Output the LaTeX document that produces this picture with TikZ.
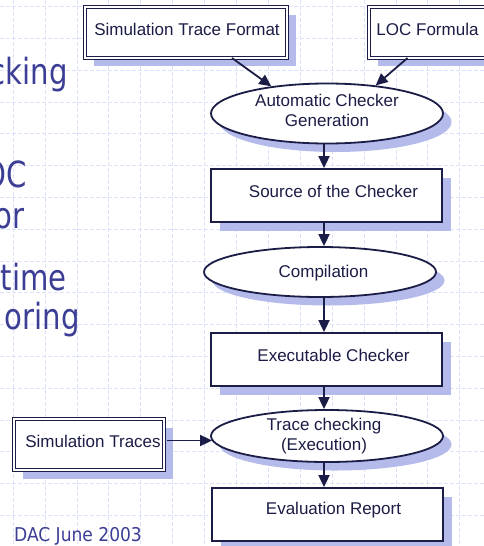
\documentclass[tikz,border=0pt]{standalone}
\usepackage{fontspec}
\setmainfont{Liberation Sans}
\newfontfamily\slidefont[FakeStretch=0.9]{DejaVu Sans Condensed}
\newfontfamily\footfont{DejaVu Sans Condensed}
\usetikzlibrary{shapes.geometric,arrows.meta,shadows}

\definecolor{navy}{RGB}{28,29,70}
\definecolor{shadowc}{RGB}{180,186,234}
\definecolor{gridc}{RGB}{222,225,250}
\definecolor{slidec}{RGB}{60,62,150}

\tikzset{
  gridline/.style={draw=gridc, line width=0.6pt, dash pattern=on 4pt off 2pt},
  shade8/.style={drop shadow={shadow xshift=8.5pt, shadow yshift=-8.5pt, fill=shadowc, opacity=1}},
  stepbox/.style={rectangle, draw=navy, line width=1.8pt, fill=white, inner sep=0pt,
    minimum width=231pt, minimum height=53pt, shade8},
  inbox/.style={rectangle, draw=navy, double=white, double distance=2pt, line width=1pt,
    fill=white, inner sep=0pt, minimum height=51pt, shade8},
  process/.style={ellipse, draw=navy, line width=1.8pt, fill=white, inner sep=0pt,
    minimum width=232pt, shade8},
  lbl/.style={font=\fontsize{17}{20.5}\selectfont, text=navy, align=center, inner sep=0pt},
  slide/.style={font=\slidefont\fontsize{36}{38}\selectfont, text=slidec, inner sep=0pt},
  arr/.style={draw=navy, line width=1.8pt, -{Triangle[length=12pt,width=11pt]}}
}

\begin{document}
\begin{tikzpicture}[x=1pt,y=-1pt]
\useasboundingbox (0,0) rectangle (484,546);
\fill[white] (0,0) rectangle (484,546);

% background grid
\foreach \i in {0,...,15} \draw[gridline] ({13+31.9*\i},0) -- ({13+31.9*\i},546);
\foreach \j in {0,...,17} \draw[gridline] (0,{6.5+31.8*\j}) -- (484,{6.5+31.8*\j});

% slide text on the left
\node[slide, anchor=base east] (t1) at (68,84) {cking};
\node[slide, anchor=base east] (t2) at (27,187) {OC};
\node[slide, anchor=base east] (t3) at (25,228) {or};
\node[slide, anchor=base east] (t4) at (67,290) {time};
\node[slide, anchor=base east] (t5) at (80,329) {oring};
\node[anchor=base west, inner sep=0pt, text=slidec, font=\footfont\fontsize{19}{20}\selectfont] (dac) at (14,541) {DAC June 2003};

% inputs
\node[inbox, minimum width=202pt] (stf) at (186,32) {};
\node[lbl] (stft) at ([xshift=1pt,yshift=3pt]stf.center) {Simulation Trace Format};
\node[inbox, minimum width=121pt] (loc) at (429.5,32) {};
\node[lbl] (loct) at ([xshift=-2pt,yshift=3pt]loc.center) {LOC Formula};
\node[inbox, minimum width=150pt] (st) at (89,444.5) {};
\node[lbl] (stt) at ([xshift=4pt,yshift=3pt]st.center) {Simulation Traces};

% flow
\node[process, minimum height=60pt] (acg) at (327,113.5) {};
\node[lbl] (acgt) at ([yshift=3pt]acg.center) {Automatic Checker\\Generation};
\node[stepbox] (src) at (326.5,195.5) {};
\node[lbl] (srct) at ([xshift=7pt,yshift=4pt]src.center) {Source of the Checker};
\node[process, minimum height=50pt] (comp) at (320,272) {};
\node[lbl] (compt) at ([xshift=3.5pt,yshift=-1pt]comp.center) {Compilation};
\node[stepbox] (exe) at (326.5,359.5) {};
\node[lbl] (exet) at ([xshift=7pt,yshift=4pt]exe.center) {Executable Checker};
\node[process, minimum height=52pt] (tc) at (327,436) {};
\node[lbl] (tct) at ([xshift=-3pt,yshift=0pt]tc.center) {Trace checking\\(Execution)};
\node[stepbox] (eval) at (327.5,514.5) {};
\node[lbl] (evalt) at ([xshift=6pt,yshift=4pt]eval.center) {Evaluation Report};

% connectors
\coordinate (col) at (324,0);
\draw[arr] ([xshift=46pt]stf.south) -- (acg.154);
\draw[arr] ([xshift=-22pt]loc.south) -- (acg.30);
\draw[arr] (acg.south -| col) -- (src.north -| col);
\draw[arr] (src.south -| col) -- (comp.north -| col);
\draw[arr] (comp.south -| col) -- (exe.north -| col);
\draw[arr] (exe.south -| col) -- (tc.north -| col);
\draw[arr] (tc.south -| col) -- (eval.north -| col);
\draw[arr] ([xshift=2pt,yshift=4pt]st.east) -- ([xshift=2pt,yshift=4pt]st.east -| tc.west);
\end{tikzpicture}
\end{document}
